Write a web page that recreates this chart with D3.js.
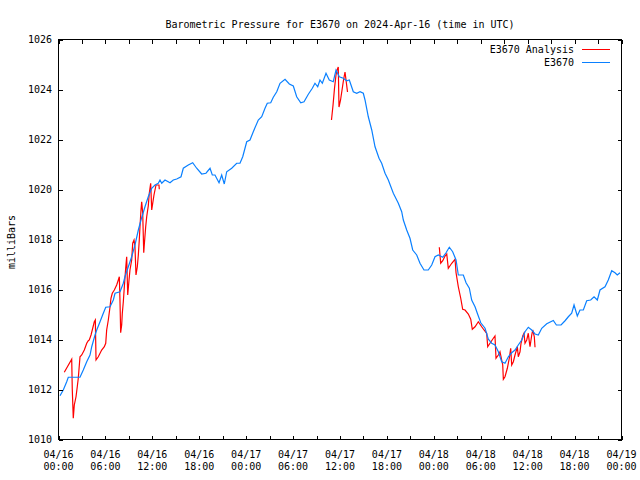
<!DOCTYPE html>
<html><head><meta charset="utf-8">
<script src="https://cdn.jsdelivr.net/npm/d3@7"></script>
<style>
html,body{margin:0;padding:0;background:#fff;}
text{font-family:"DejaVu Sans Mono",monospace;font-size:10px;fill:#000;}
</style></head>
<body><svg id="c" width="640" height="480"></svg>
<script>
const title = "Barometric Pressure for E3670 on 2024-Apr-16 (time in UTC)";
const yLabel = "milliBars";
const seriesNames = ["E3670 Analysis", "E3670"];
const seriesColors = ["#ff0000", "#0a80ff"];
const yTicks = [1010,1012,1014,1016,1018,1020,1022,1024,1026];
const startTime = Date.UTC(2024,3,16,0,0);
const endTime = Date.UTC(2024,3,19,0,0);

// Hours since 04/16 00:00 UTC and pressure (mb), E3670 observations
const obsHours = [0.19,0.61,1.05,1.25,2.75,3.17,3.61,4.03,4.25,4.67,4.89,5.31,5.73,6.04,6.59,7.01,7.23,7.87,8.29,8.50,8.93,9.36,9.78,10.21,10.55,11.06,11.48,11.92,12.34,12.76,12.98,13.20,13.62,14.26,14.68,15.12,15.67,15.96,16.60,17.16,17.67,18.31,18.86,19.38,19.67,20.01,20.53,20.87,21.20,21.51,22.15,22.79,23.21,23.56,24.07,24.49,24.91,25.55,25.99,26.41,26.70,27.14,27.47,27.91,28.33,28.97,29.52,30.03,30.46,30.98,31.40,31.95,32.46,32.80,33.15,33.44,33.74,34.21,34.63,35.14,35.49,35.91,36.42,36.86,37.19,37.70,38.14,38.56,38.98,39.20,39.62,40.06,40.48,40.99,41.33,41.76,42.18,42.82,43.46,43.89,44.10,44.53,44.95,45.30,45.81,46.23,46.74,47.29,47.73,48.15,48.57,49.14,49.56,49.98,50.41,50.84,51.13,51.77,52.12,52.54,52.84,53.27,53.56,54.00,54.55,54.97,55.40,55.82,56.25,56.68,57.10,57.53,57.96,58.38,58.80,59.24,59.66,60.08,60.52,60.94,61.36,61.80,62.44,63.28,63.67,64.27,64.78,65.20,65.63,65.93,66.35,66.69,67.12,67.55,68.06,68.49,68.91,69.25,69.89,70.31,70.75,71.17,71.46,71.81];
const obsValues = [1011.75,1011.98,1012.31,1012.49,1012.49,1012.78,1013.11,1013.38,1013.71,1014.18,1014.38,1014.71,1015.05,1015.29,1015.31,1015.58,1015.85,1015.91,1016.25,1016.51,1016.91,1017.31,1017.78,1018.38,1018.78,1019.31,1019.71,1020.05,1020.18,1020.25,1020.38,1020.25,1020.38,1020.27,1020.38,1020.42,1020.51,1020.85,1020.98,1021.07,1020.85,1020.62,1020.65,1020.85,1020.58,1020.58,1020.27,1020.58,1020.22,1020.71,1020.85,1021.05,1021.05,1021.31,1021.91,1021.98,1022.31,1022.78,1022.91,1023.25,1023.45,1023.47,1023.69,1023.91,1024.25,1024.41,1024.22,1024.14,1023.71,1023.47,1023.51,1023.81,1024.05,1024.25,1024.11,1024.38,1024.25,1024.65,1024.38,1024.31,1024.78,1024.51,1024.45,1024.35,1024.38,1023.91,1023.85,1023.91,1023.85,1023.58,1022.91,1022.38,1021.71,1021.25,1021.05,1020.65,1020.38,1019.85,1019.45,1019.11,1018.78,1018.38,1018.05,1017.58,1017.38,1017.05,1016.78,1016.78,1016.98,1017.31,1017.38,1017.29,1017.47,1017.69,1017.51,1017.18,1016.58,1016.58,1016.27,1016.05,1015.58,1015.31,1015.05,1014.67,1014.45,1014.01,1013.85,1013.78,1013.51,1013.11,1013.05,1013.31,1013.47,1013.58,1013.78,1013.98,1014.31,1014.49,1014.38,1014.22,1014.18,1014.45,1014.63,1014.76,1014.58,1014.58,1014.75,1014.91,1015.05,1015.38,1014.94,1015.18,1015.18,1015.55,1015.58,1015.71,1015.58,1015.98,1016.11,1016.38,1016.75,1016.67,1016.58,1016.67];

// E3670 Analysis, three visible stretches (null = gap)
const anaHours = [0.74,1.69,1.76,1.89,2.02,2.24,2.40,2.53,2.75,2.97,3.30,3.61,3.81,3.94,4.16,4.32,4.58,4.71,4.80,5.09,5.52,5.86,6.04,6.16,6.37,6.59,6.71,6.88,7.14,7.44,7.65,7.78,7.87,7.95,8.08,8.16,8.29,8.42,8.59,8.72,8.85,9.02,9.14,9.36,9.49,9.66,9.78,9.91,10.08,10.21,10.33,10.42,10.55,10.64,10.77,10.90,10.97,11.15,11.28,11.48,11.61,11.79,11.92,12.05,12.21,12.34,12.47,12.85,12.89,
 20.0,
 34.91,35.11,35.30,35.49,35.62,35.78,35.87,36.07,36.26,36.45,36.64,36.77,36.96,
 42.0,
 48.70,48.88,49.14,49.43,49.65,49.85,50.29,50.71,50.84,51.13,51.44,51.69,51.99,52.41,52.72,52.92,53.27,53.69,54.12,54.42,54.76,54.89,55.18,55.61,55.82,55.95,56.25,56.46,56.81,56.89,57.10,57.40,57.65,57.83,57.96,58.17,58.38,58.68,58.80,59.02,59.15,59.37,59.53,59.66,59.88,60.08,60.21,60.30,60.52,60.65,60.85,60.94];
const anaValues = [1012.69,1013.21,1012.02,1010.85,1011.38,1011.71,1012.11,1012.45,1013.31,1013.38,1013.58,1013.85,1013.95,1013.98,1014.18,1014.38,1014.71,1014.78,1013.18,1013.31,1013.58,1013.71,1013.85,1014.38,1014.78,1015.31,1015.65,1015.85,1015.98,1016.18,1016.38,1016.51,1015.45,1014.27,1014.58,1015.05,1015.51,1016.11,1016.85,1017.31,1015.78,1016.38,1016.78,1017.18,1017.85,1017.98,1017.71,1016.58,1016.91,1017.38,1017.98,1018.51,1019.18,1019.51,1019.05,1017.47,1017.78,1018.51,1018.91,1019.34,1019.85,1020.25,1019.18,1019.45,1019.78,1019.98,1020.18,1020.18,1020.01,
 null,
 1022.78,1023.38,1024.06,1024.58,1024.78,1024.90,1023.30,1023.58,1023.98,1024.38,1024.70,1024.38,1023.90,
 null,
 1017.69,1017.05,1017.15,1017.34,1017.42,1016.85,1017.05,1017.21,1016.67,1016.11,1015.65,1015.21,1015.18,1015.02,1014.81,1014.41,1014.51,1014.71,1014.51,1014.38,1014.25,1013.71,1013.85,1014.05,1014.14,1013.25,1013.38,1013.51,1012.98,1012.41,1012.51,1012.85,1013.25,1013.65,1012.98,1013.11,1013.38,1013.71,1013.31,1013.51,1013.85,1014.14,1014.25,1013.85,1013.98,1014.25,1013.91,1013.71,1014.18,1014.38,1014.11,1013.69];

const L = 58.5, R = 621.5, T = 39.5, B = 439.5;
const svg = d3.select("#c");
const x = d3.scaleUtc().domain([new Date(startTime), new Date(endTime)]).range([L, R]);
const y = d3.scaleLinear().domain([1010, 1026]).range([B, T]);
const toDate = h => new Date(startTime + h * 3600000);

const obs = obsHours.map((h,i)=>({t:toDate(h), v:obsValues[i]}));
const ana = anaHours.map((h,i)=>({t:toDate(h), v:anaValues[i]}));

const line = d3.line().defined(d=>d.v!==null).x(d=>x(d.t)).y(d=>y(d.v));

// Analysis first, observations on top (gnuplot order)
svg.append("path").datum(ana).attr("d", line).attr("fill","none")
  .attr("stroke", seriesColors[0]).attr("stroke-width",1.2).attr("stroke-linejoin","miter");
svg.append("path").datum(obs).attr("d", line).attr("fill","none")
  .attr("stroke", seriesColors[1]).attr("stroke-width",1.2).attr("stroke-linejoin","miter");

// Axes with inward ticks
const xTickVals = d3.utcHour.every(3).range(new Date(startTime), new Date(endTime + 1));
const gb = svg.append("g").attr("transform",`translate(0,${B})`)
  .call(d3.axisBottom(x).tickValues(xTickVals).tickSize(-4).tickFormat(""));
const gt = svg.append("g").attr("transform",`translate(0,${T})`)
  .call(d3.axisTop(x).tickValues(xTickVals).tickSize(-4).tickFormat(""));
const gl = svg.append("g").attr("transform",`translate(${L},0)`)
  .call(d3.axisLeft(y).tickValues(yTicks).tickSize(-4).tickFormat(""));
const gr = svg.append("g").attr("transform",`translate(${R},0)`)
  .call(d3.axisRight(y).tickValues(yTicks).tickSize(-4).tickFormat(""));
[gb,gt,gl,gr].forEach(g=>{
  g.selectAll(".domain").remove();
  g.selectAll("line").attr("stroke","#000").attr("shape-rendering","crispEdges");
});
svg.append("rect").attr("x",L).attr("y",T).attr("width",R-L).attr("height",B-T)
  .attr("fill","none").attr("stroke","#000").attr("shape-rendering","crispEdges");

// Tick labels
const fmtD = d3.utcFormat("%m/%d"), fmtT = d3.utcFormat("%H:%M");
const xLabVals = d3.utcHour.every(6).range(new Date(startTime), new Date(endTime + 1));
xLabVals.forEach(d=>{
  const t = svg.append("text").attr("text-anchor","middle");
  t.append("tspan").attr("x", x(d)).attr("y", 458).text(fmtD(d));
  t.append("tspan").attr("x", x(d)).attr("y", 470).text(fmtT(d));
});
yTicks.forEach(v=>{
  svg.append("text").attr("x",52).attr("y",y(v)+3.6).attr("text-anchor","end").text(v);
});

// Title and axis label
svg.append("text").attr("x",(L+R)/2).attr("y",28).attr("text-anchor","middle").text(title);
svg.append("text").attr("transform","translate(15,242) rotate(-90)").attr("text-anchor","middle").text(yLabel);

// Legend
seriesNames.forEach((n,i)=>{
  const ly = 49.5 + i*13;
  svg.append("text").attr("x",574).attr("y",ly+3.6).attr("text-anchor","end").text(n);
  svg.append("line").attr("x1",582).attr("x2",610).attr("y1",ly).attr("y2",ly)
    .attr("stroke",seriesColors[i]).attr("stroke-width",1).attr("shape-rendering","crispEdges");
});
</script></body></html>
